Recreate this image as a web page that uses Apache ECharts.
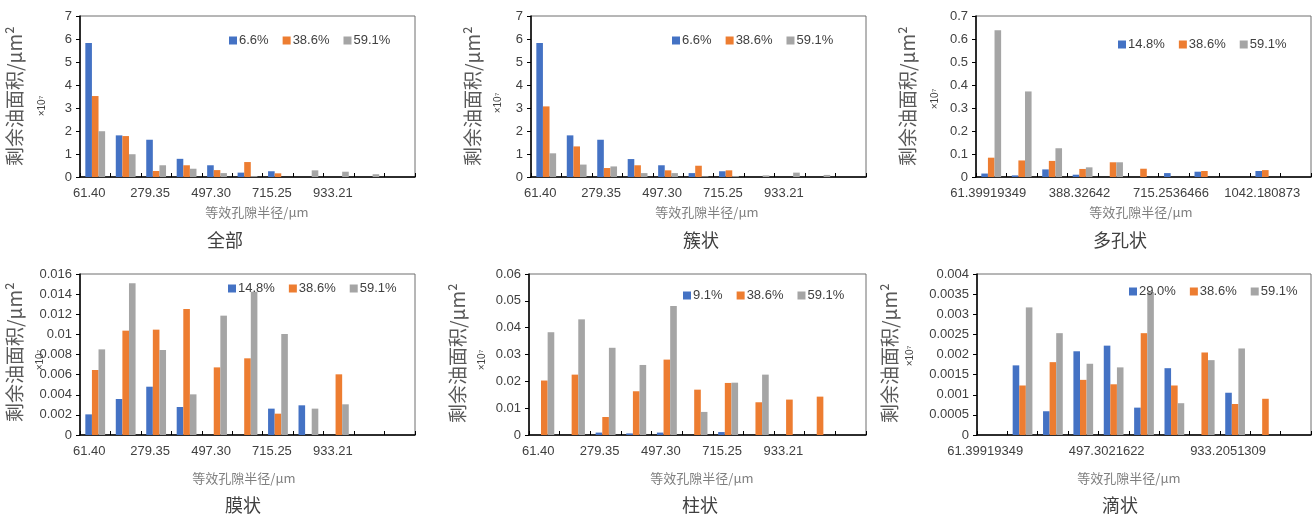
<!DOCTYPE html>
<html><head><meta charset="utf-8">
<script src="https://cdn.jsdelivr.net/npm/echarts@6/dist/echarts.min.js"></script>
<style>html,body{margin:0;padding:0;background:#fff}#c{width:1315px;height:516px}</style>
</head><body><div id="c"></div>
<script>
// ---- categories (equivalent pore radius, μm) ----
const catsShort = ['61.40','170.37','279.35','388.33','497.30','606.28','715.25','824.23','933.21','1042.18','1151.16'];
const catsLong = ['61.39919349','170.3749357','279.3506778','388.32642','497.3021622','606.2779','715.2536466','824.2294','933.2051309','1042.180873','1151.156615'];

// ---- panel titles & legends ----
const titles = ['全部','簇状','多孔状','膜状','柱状','滴状'];
const legend1 = ['6.6%','38.6%','59.1%'];
const legend2 = ['6.6%','38.6%','59.1%'];
const legend3 = ['14.8%','38.6%','59.1%'];
const legend4 = ['14.8%','38.6%','59.1%'];
const legend5 = ['9.1%','38.6%','59.1%'];
const legend6 = ['29.0%','38.6%','59.1%'];

// ---- y axis maxima / intervals ----
const yMax = [7, 7, 0.7, 0.016, 0.06, 0.004];
const yStep = [1, 1, 0.1, 0.002, 0.01, 0.0005];

// ---- data (×10^7 μm²) ----
const all_a = [5.83, 1.81, 1.62, 0.79, 0.51, 0.19, 0.25, 0, 0, 0, 0];
const all_b = [3.52, 1.78, 0.26, 0.51, 0.30, 0.65, 0.16, 0, 0, 0, 0];
const all_c = [1.99, 0.99, 0.51, 0.36, 0.17, 0.04, 0, 0.29, 0.23, 0.12, 0];

const clu_a = [5.83, 1.81, 1.62, 0.78, 0.51, 0.17, 0.25, 0, 0, 0, 0];
const clu_b = [3.07, 1.33, 0.39, 0.51, 0.29, 0.49, 0.29, 0, 0, 0, 0];
const clu_c = [1.03, 0.54, 0.46, 0.17, 0.17, 0.03, 0.04, 0.07, 0.19, 0.09, 0];

const por_a = [0.015, 0.007, 0.033, 0.010, 0, 0, 0.017, 0.023, 0, 0.026, 0];
const por_b = [0.084, 0.072, 0.070, 0.035, 0.064, 0.036, 0, 0.026, 0, 0.030, 0];
const por_c = [0.638, 0.372, 0.125, 0.042, 0.064, 0, 0, 0, 0, 0, 0];

const fil_a = [0.00205, 0.00358, 0.0048, 0.00278, 0, 0, 0.00262, 0.00295, 0, 0, 0];
const fil_b = [0.00646, 0.01037, 0.01047, 0.01252, 0.00672, 0.00762, 0.00212, 0, 0.00603, 0, 0];
const fil_c = [0.00851, 0.01507, 0.00845, 0.00404, 0.01186, 0.01424, 0.01004, 0.00262, 0.00305, 0, 0];

const col_a = [0, 0, 0.0009, 0.0006, 0.0009, 0, 0.0011, 0, 0, 0, 0];
const col_b = [0.0203, 0.0225, 0.0067, 0.0163, 0.0281, 0.0169, 0.0194, 0.0122, 0.0132, 0.0143, 0];
const col_c = [0.0383, 0.0431, 0.0325, 0.0261, 0.0481, 0.0086, 0.0195, 0.0225, 0, 0, 0];

const dro_a = [0, 0.00173, 0.00059, 0.00208, 0.00222, 0.00068, 0.00166, 0, 0.00105, 0, 0];
const dro_b = [0, 0.00123, 0.00181, 0.00137, 0.00126, 0.00253, 0.00123, 0.00205, 0.00077, 0.0009, 0];
const dro_c = [0, 0.00317, 0.00253, 0.00177, 0.00168, 0.00355, 0.00079, 0.00186, 0.00215, 0, 0];

const panels = [
  {legend: legend1, data: [all_a, all_b, all_c], cats: catsShort, labStep: 2},
  {legend: legend2, data: [clu_a, clu_b, clu_c], cats: catsShort, labStep: 2},
  {legend: legend3, data: [por_a, por_b, por_c], cats: catsLong, labStep: 3},
  {legend: legend4, data: [fil_a, fil_b, fil_c], cats: catsShort, labStep: 2},
  {legend: legend5, data: [col_a, col_b, col_c], cats: catsShort, labStep: 2},
  {legend: legend6, data: [dro_a, dro_b, dro_c], cats: catsLong, labStep: 4}
];

// ---- layout ----
const grids = [
  {left: 80, top: 16, width: 335, height: 161},
  {left: 531, top: 16, width: 335, height: 161},
  {left: 976, top: 16, width: 335, height: 161},
  {left: 80, top: 274, width: 335, height: 161},
  {left: 529, top: 274, width: 337, height: 161},
  {left: 977, top: 274, width: 334, height: 161}
];
const labPad = [12, 12, 6, 12, 12, 14];
const legendPos = [[224, 29], [667, 29], [1113, 33], [223, 277], [678, 284], [1124, 280]];
const yNamePos = [[15, 96], [473, 96], [908, 96], [15, 352], [458, 353], [890, 353]];
const x107Pos = [[42, 106], [498, 103], [935, 99], [40, 360], [482, 360], [910, 356]];
const xNamePos = [[257, 212], [707, 212], [1141, 212], [244, 478], [702, 478], [1129, 478]];
const titlePos = [[225, 240], [701, 240], [1120, 240], [243, 505], [700, 505], [1120, 505]];

const colors = ['#4472C4', '#ED7D31', '#A5A5A5'];
const FONT = '"Liberation Sans", Arial, "Noto Sans CJK SC", sans-serif';
const CJK = '"Noto Sans CJK SC", "Liberation Sans", sans-serif';

const option = {
  animation: false,
  textStyle: {fontFamily: FONT},
  grid: grids.map(g => Object.assign({show: true, borderColor: '#6e6e6e', borderWidth: 1, containLabel: false}, g)),
  legend: panels.map((p, i) => ({
    data: p.legend, left: legendPos[i][0], top: legendPos[i][1], orient: 'horizontal',
    itemWidth: 8, itemHeight: 8, itemGap: 14, icon: 'rect', selectedMode: false,
    textStyle: {fontSize: 13, color: '#404040', fontFamily: FONT, padding: [0, 0, 0, -3]}
  })),
  xAxis: panels.map((p, i) => ({
    type: 'category', gridIndex: i, data: p.cats, boundaryGap: true,
    axisLine: {lineStyle: {color: '#000', width: 1.5}},
    axisTick: {show: true, inside: true, length: 4, interval: 0, lineStyle: {color: '#000'}},
    axisLabel: {interval: idx => idx % p.labStep === 0 && idx < p.cats.length - 1,
      fontSize: 13, color: '#404040', margin: 10, padding: [0, labPad[i], 0, 0], fontFamily: FONT}
  })),
  yAxis: panels.map((p, i) => ({
    type: 'value', gridIndex: i, min: 0, max: yMax[i], interval: yStep[i],
    splitLine: {show: false},
    axisLine: {show: true, lineStyle: {color: '#000', width: 1.5}},
    axisTick: {show: true, length: 4, lineStyle: {color: '#000'}},
    axisLabel: {fontSize: 13, color: '#404040', margin: 8, fontFamily: FONT,
      formatter: v => String(+Number(v).toFixed(6))}
  })),
  series: [],
  graphic: []
};

panels.forEach((p, i) => {
  p.data.forEach((d, k) => {
    option.series.push({
      type: 'bar', name: p.legend[k], xAxisIndex: i, yAxisIndex: i, data: d,
      itemStyle: {color: colors[k]}, barGap: '0%', barCategoryGap: '35%'
    });
  });
  option.graphic.push({
    type: 'text', x: yNamePos[i][0], y: yNamePos[i][1], rotation: Math.PI / 2,
    style: {text: '剩余油面积/μm²', fontSize: 19, fill: '#595959', fontFamily: CJK, align: 'center', verticalAlign: 'middle'}
  });
  option.graphic.push({
    type: 'text', x: x107Pos[i][0], y: x107Pos[i][1], rotation: Math.PI / 2,
    style: {text: '×10⁷', fontSize: 10, fill: '#404040', fontFamily: FONT, align: 'center', verticalAlign: 'middle'}
  });
  option.graphic.push({
    type: 'text', x: xNamePos[i][0], y: xNamePos[i][1],
    style: {text: '等效孔隙半径/μm', fontSize: 13, fill: '#7f7f7f', fontFamily: CJK, align: 'center', verticalAlign: 'middle'}
  });
  option.graphic.push({
    type: 'text', x: titlePos[i][0], y: titlePos[i][1],
    style: {text: titles[i], fontSize: 18, fill: '#404040', fontFamily: CJK, align: 'center', verticalAlign: 'middle'}
  });
});

const chart = echarts.init(document.getElementById('c'), null, {renderer: 'canvas'});
chart.setOption(option);
</script>
</body></html>
